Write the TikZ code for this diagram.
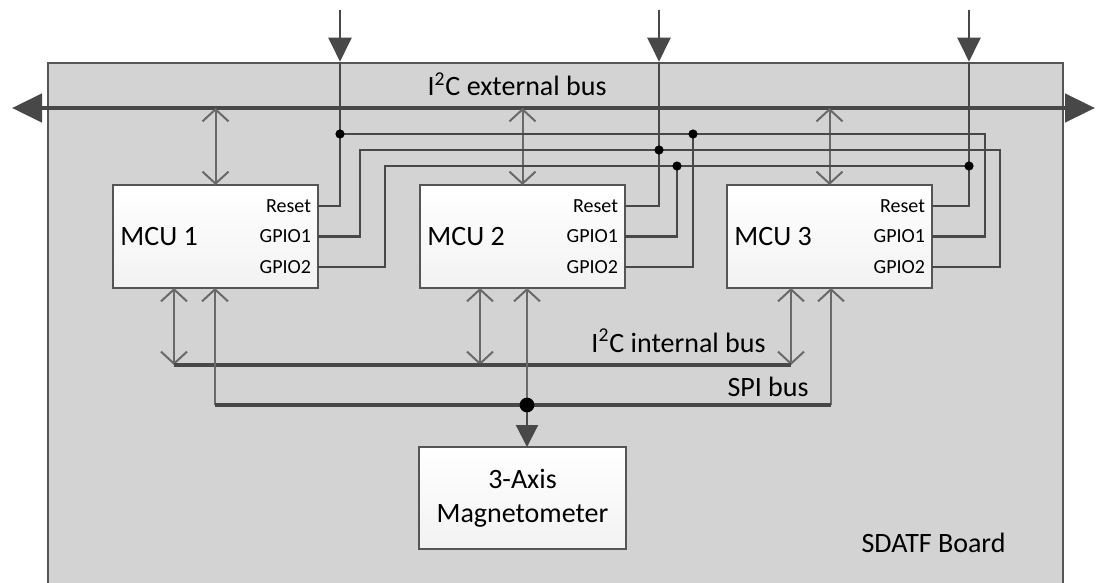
\documentclass[tikz,border=0pt]{standalone}
\usepackage{fontspec}
\setmainfont{Carlito}
\usetikzlibrary{positioning}
\usetikzlibrary{arrows.meta}
\definecolor{boardcolor}{RGB}{211,211,211}
\definecolor{wirecolor}{RGB}{72,72,72}
\definecolor{linkcolor}{RGB}{105,105,105}
\definecolor{edgecolor}{RGB}{85,85,85}

\begin{document}
\begin{tikzpicture}[
    x=0.5pt, y=-0.5pt,
    board/.style={rectangle, draw=edgecolor, line width=1.3pt, fill=boardcolor, minimum width=507.5pt, minimum height=268.5pt},
    mcu/.style={rectangle, draw=edgecolor, line width=1pt, top color=white, bottom color=black!5, minimum width=102.5pt, minimum height=51.5pt, outer sep=0pt},
    mcutext/.style={font=\fontsize{14}{17}\selectfont, inner sep=3.5pt},
    port/.style={font=\fontsize{10}{12}\selectfont, inner sep=3.5pt, outer sep=0pt},
    buslabel/.style={font=\fontsize{14}{17}\selectfont, inner sep=0pt},
    extbus/.style={{Triangle[length=15pt,width=14pt]}-{Triangle[length=15pt,width=14pt]}, line width=2.3pt, draw=wirecolor},
    bus/.style={line width=2pt, draw=wirecolor},
    sig/.style={line width=1.1pt, draw=wirecolor},
    inarrow/.style={-{Triangle[length=12pt,width=11.5pt]}, line width=1.1pt, draw=wirecolor},
    magarrow/.style={-{Triangle[length=11pt,width=11pt]}, line width=1.1pt, draw=wirecolor},
    link/.style={{Straight Barb[length=6pt,width=13pt]}-{Straight Barb[length=6pt,width=13pt]}, line width=1pt, draw=linkcolor},
    tap/.style={{Straight Barb[length=6pt,width=13pt]}-, line width=1pt, draw=linkcolor}
]
\useasboundingbox (0,0) rectangle (1098,583);
\clip (0,0) rectangle (1098,583);

% Board
\node[board] (board) at (555.5,331.5) {};
\node[buslabel, anchor=base east] (boardlabel) at (1006,552) {SDATF Board};

% MCUs
\node[mcu] (mcuA) at (215.5,236.5) {};
\node[mcu, right=51pt of mcuA] (mcuB) {};
\node[mcu, right=51pt of mcuB] (mcuC) {};
\node[mcutext, anchor=west] (nameA) at (mcuA.west) {MCU 1};
\node[mcutext, anchor=west] (nameB) at (mcuB.west) {MCU 2};
\node[mcutext, anchor=west] (nameC) at (mcuC.west) {MCU 3};

% Ports
\node[port, left=0pt of mcuA.east, yshift=15.25pt] (rstA) {Reset};
\node[port, left=0pt of mcuA.east] (gpioA1) {GPIO1};
\node[port, left=0pt of mcuA.east, yshift=-15.25pt] (gpioA2) {GPIO2};
\node[port, left=0pt of mcuB.east, yshift=15.25pt] (rstB) {Reset};
\node[port, left=0pt of mcuB.east] (gpioB1) {GPIO1};
\node[port, left=0pt of mcuB.east, yshift=-15.25pt] (gpioB2) {GPIO2};
\node[port, left=0pt of mcuC.east, yshift=15.25pt] (rstC) {Reset};
\node[port, left=0pt of mcuC.east] (gpioC1) {GPIO1};
\node[port, left=0pt of mcuC.east, yshift=-15.25pt] (gpioC2) {GPIO2};

% Magnetometer
\node[mcu, font=\fontsize{14}{17}\selectfont, align=center, minimum width=103.5pt, minimum height=51pt, below=79.5pt of mcuB] (mag) {3-Axis\\Magnetometer};

% External bus
\coordinate (busL) at (12,108);
\coordinate (busR) at (1095,108);
\draw[extbus] (busL) -- (busR);
\node[buslabel, anchor=base] (extlabel) at (517,96) {I\textsuperscript{2}C external bus};
\draw[link] (mcuA.north |- busL) -- (mcuA.north);
\draw[link] (mcuB.north |- busL) -- (mcuB.north);
\draw[link] (mcuC.north |- busL) -- (mcuC.north);

% Reset / GPIO wiring
\coordinate (inA) at (340,10);
\coordinate (inB) at (659,10);
\coordinate (inC) at (969,10);
\coordinate (cA1) at (360,0);
\coordinate (cA2) at (385,0);
\coordinate (cB1) at (677,0);
\coordinate (cB2) at (693,0);
\coordinate (cC1) at (985,0);
\coordinate (cC2) at (1000,0);
\coordinate (rA) at (0,134);
\coordinate (rB) at (0,150);
\coordinate (rC) at (0,166);

\draw[inarrow] (inA) -- (inA |- board.north);
\draw[inarrow] (inB) -- (inB |- board.north);
\draw[inarrow] (inC) -- (inC |- board.north);
\draw[sig] (inA |- board.north) |- (rstA.east);
\draw[sig] (inB |- board.north) |- (rstB.east);
\draw[sig] (inC |- board.north) |- (rstC.east);

\draw[sig] (inA |- rA) -| (cC1 |- gpioC1) -- (gpioC1.east);
\draw[sig] (gpioB2.east) -| (cB2 |- rA);
\draw[sig] (gpioA1.east) -| (cA1 |- rB) -| (cC2 |- gpioC2) -- (gpioC2.east);
\draw[sig] (gpioA2.east) -| (cA2 |- rC) -- (inC |- rC);
\draw[sig] (gpioB1.east) -| (cB1 |- rC);

\fill[black] (inA |- rA) circle (2.3pt);
\fill[black] (cB2 |- rA) circle (2.3pt);
\fill[black] (inB |- rB) circle (2.3pt);
\fill[black] (cB1 |- rC) circle (2.3pt);
\fill[black] (inC |- rC) circle (2.3pt);

% Internal buses
\coordinate (iA) at (174,365);
\coordinate (iB) at (480,365);
\coordinate (iC) at (791,365);
\coordinate (sA) at (215,405);
\coordinate (sB) at (527,405);
\coordinate (sC) at (831,405);

\draw[link] (iA |- mcuA.south) -- (iA);
\draw[link] (iB |- mcuB.south) -- (iB);
\draw[link] (iC |- mcuC.south) -- (iC);
\draw[bus] (iA) -- (iC);
\node[buslabel, above left=6pt and 12.5pt of iC] (intlabel) {I\textsuperscript{2}C internal bus};

\draw[tap] (sA |- mcuA.south) -- (sA);
\draw[tap] (sB |- mcuB.south) -- (sB);
\draw[tap] (sC |- mcuC.south) -- (sC);
\draw[bus] (sA) -- (sC);
\node[buslabel, above left=4pt and 11pt of sC] (spilabel) {SPI bus};
\draw[magarrow] (sB) -- (sB |- mag.north);
\fill[black] (sB) circle (3.7pt);

\end{tikzpicture}
\end{document}
